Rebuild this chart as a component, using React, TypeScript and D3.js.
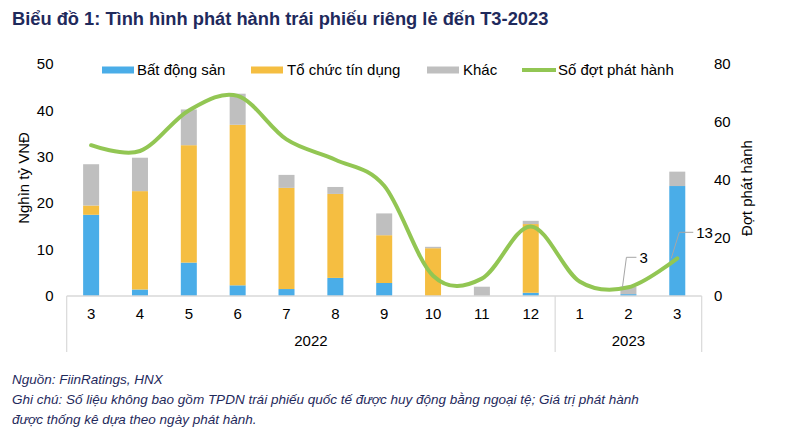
import React from "react";
import * as d3 from "d3";

const months = ["3", "4", "5", "6", "7", "8", "9", "10", "11", "12", "1", "2", "3"];
const years = [
  { label: "2022", from: 0, to: 10 },
  { label: "2023", from: 10, to: 13 },
];
const batDongSan = [17.5, 1.4, 7.2, 2.3, 1.5, 3.9, 2.8, 0, 0, 0.7, 0, 0.4, 23.7];
const toChucTinDung = [2.0, 21.2, 25.3, 34.6, 21.8, 18.1, 10.3, 10.3, 0, 14.8, 0, 0, 0];
const khac = [8.9, 7.2, 7.7, 6.7, 2.8, 1.5, 4.7, 0.3, 2.0, 0.7, 0, 1.6, 3.1];
const soDot = [52, 50, 64, 69, 54, 47, 38, 7, 6, 24, 5, 3, 13];
const leftTicks = [0, 10, 20, 30, 40, 50];
const rightTicks = [0, 20, 40, 60, 80];
const labeledPoints = [
  { index: 11, dx1: 2, dy1: -30, dx2: 10 },
  { index: 12, dx1: 6, dy1: -26, dx2: 14 },
];

const COLORS = {
  bds: "#4AADE8",
  tctd: "#F5BE41",
  khac: "#BFBFBF",
  line: "#92C653",
  axis: "#D9D9D9",
  title: "#1F2A5C",
};

const FONT = "'Liberation Sans', Arial, sans-serif";

export default function App() {
  const W = 800;
  const H = 438;
  const x0 = 66.7;
  const x1 = 701.7;
  const yBase = 296;
  const yTop = 64;

  const x = d3.scaleBand<number>().domain(d3.range(months.length)).range([x0, x1]).padding(0);
  const yL = d3.scaleLinear().domain([0, 50]).range([yBase, yTop]);
  const yR = d3.scaleLinear().domain([0, 80]).range([yBase, yTop]);
  const barW = 16;
  const cx = (i: number) => (x(i) as number) + x.bandwidth() / 2;

  const stack = d3.stack<number>().keys(["bds", "tctd", "khac"]).value((i, k) =>
    k === "bds" ? batDongSan[i] : k === "tctd" ? toChucTinDung[i] : khac[i]
  );
  const series = stack(d3.range(months.length));
  const colorOf: Record<string, string> = { bds: COLORS.bds, tctd: COLORS.tctd, khac: COLORS.khac };

  const line = d3
    .line<number>()
    .x((d, i) => cx(i))
    .y((d) => yR(d))
    .curve(d3.curveCatmullRom.alpha(0));

  const legend = [
    { type: "rect", color: COLORS.bds, label: "Bất động sản", x: 102, tx: 137 },
    { type: "rect", color: COLORS.tctd, label: "Tổ chức tín dụng", x: 251, tx: 287 },
    { type: "rect", color: COLORS.khac, label: "Khác", x: 427, tx: 463 },
    { type: "line", color: COLORS.line, label: "Số đợt phát hành", x: 522, tx: 558 },
  ];

  return (
    <svg
      width={W}
      height={H}
      style={{ position: "absolute", left: 0, top: 0, background: "#fff" }}
      fontFamily={FONT}
    >
      <rect width={W} height={H} fill="#fff" />
      <text x={12} y={25} fontSize={18.3} fontWeight="bold" fill={COLORS.title}>
        Biểu đồ 1: Tình hình phát hành trái phiếu riêng lẻ đến T3-2023
      </text>

      {/* left ticks */}
      {leftTicks.map((t) => (
        <text key={"l" + t} x={53.5} y={yL(t)} dy="0.35em" textAnchor="end" fontSize={15} fill="#000">
          {t}
        </text>
      ))}
      {rightTicks.map((t) => (
        <text key={"r" + t} x={714} y={yR(t)} dy="0.35em" textAnchor="start" fontSize={15} fill="#000">
          {t}
        </text>
      ))}
      <text
        transform={`translate(24,178) rotate(-90)`}
        textAnchor="middle"
        dy="0.35em"
        fontSize={15}
        fill="#000"
      >
        Nghìn tỷ VNĐ
      </text>
      <text
        transform={`translate(747,188) rotate(-90)`}
        textAnchor="middle"
        dy="0.35em"
        fontSize={15}
        fill="#000"
      >
        Đợt phát hành
      </text>

      {/* bars */}
      {series.map((s) => (
        <g key={s.key} fill={colorOf[s.key]}>
          {s.map((d, i) => {
            const h = yL(d[0]) - yL(d[1]);
            if (h <= 0) return null;
            return <rect key={i} x={cx(i) - barW / 2} y={yL(d[1])} width={barW} height={h} />;
          })}
        </g>
      ))}

      {/* axis */}
      <line x1={x0} x2={x1} y1={yBase} y2={yBase} stroke={COLORS.axis} strokeWidth={1.5} />
      {[0, 10, 13].map((b) => {
        const xx = b === 13 ? x1 : (x(b) as number);
        return <line key={b} x1={xx} x2={xx} y1={yBase} y2={352} stroke={COLORS.axis} strokeWidth={1.2} />;
      })}
      {months.map((m, i) => (
        <text key={"m" + i} x={cx(i)} y={314} dy="0.35em" textAnchor="middle" fontSize={15} fill="#000">
          {m}
        </text>
      ))}
      {years.map((yr) => {
        const a = x(yr.from) as number;
        const b = yr.to >= months.length ? x1 : (x(yr.to) as number);
        return (
          <text key={yr.label} x={(a + b) / 2} y={341} dy="0.35em" textAnchor="middle" fontSize={15} fill="#000">
            {yr.label}
          </text>
        );
      })}

      {/* line */}
      <path d={line(soDot) || ""} fill="none" stroke={COLORS.line} strokeWidth={4} strokeLinecap="round" />

      {/* data labels */}
      {labeledPoints.map((p) => {
        const px = cx(p.index);
        const py = yR(soDot[p.index]);
        const ax = px + p.dx1;
        const ay = py + p.dy1;
        return (
          <g key={p.index}>
            <polyline
              points={`${px - 6},${py} ${ax - 4},${ay} ${ax - 4 + p.dx2},${ay}`}
              fill="none"
              stroke="#A6A6A6"
              strokeWidth={1}
            />
            <text x={ax - 4 + p.dx2 + 3} y={ay} dy="0.35em" fontSize={15} fill="#000">
              {soDot[p.index]}
            </text>
          </g>
        );
      })}

      {/* legend */}
      {legend.map((l) => (
        <g key={l.label}>
          {l.type === "rect" ? (
            <rect x={l.x} y={66.5} width={32} height={7} fill={l.color} />
          ) : (
            <line x1={l.x} x2={l.x + 34} y1={70} y2={70} stroke={l.color} strokeWidth={4} />
          )}
          <text x={l.tx} y={70} dy="0.35em" fontSize={15} fill="#000">
            {l.label}
          </text>
        </g>
      ))}

      {/* footnotes */}
      <g fontStyle="italic" fontSize={13.5} fill={COLORS.title}>
        <text x={12} y={384}>Nguồn: FiinRatings, HNX</text>
        <text x={12} y={404}>
          Ghi chú: Số liệu không bao gồm TPDN trái phiếu quốc tế được huy động bằng ngoại tệ; Giá trị phát hành
        </text>
        <text x={12} y={423.5}>được thống kê dựa theo ngày phát hành.</text>
      </g>
    </svg>
  );
}
